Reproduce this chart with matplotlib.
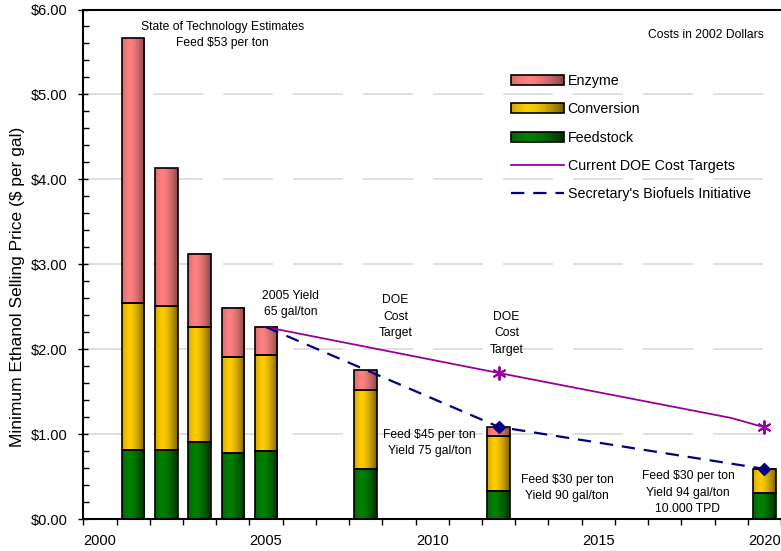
import numpy as np
import matplotlib
matplotlib.use("Agg")
import matplotlib.pyplot as plt
from matplotlib.legend_handler import HandlerBase
from matplotlib.patches import Rectangle
from matplotlib.lines import Line2D
from matplotlib.colors import to_rgb

plt.rcParams['font.family'] = ['Liberation Sans', 'DejaVu Sans']

# Data
years = [2001, 2002, 2003, 2004, 2005, 2008, 2012, 2020]
feedstock = [0.81, 0.81, 0.91, 0.78, 0.80, 0.59, 0.33, 0.31]
conversion = [1.73, 1.70, 1.35, 1.13, 1.13, 0.93, 0.65, 0.28]
enzyme = [3.12, 1.62, 0.86, 0.58, 0.33, 0.23, 0.10, 0.0]

doe_years = [2005, 2012, 2019, 2020]
doe_cost = [2.26, 1.72, 1.19, 1.08]

sec_years = [2005, 2012, 2020]
sec_cost = [2.26, 1.085, 0.59]

# light (center) / dark (edge) colours for the gradient fills
colors = {
    'Enzyme': ('#ff8080', '#8a4848'),
    'Conversion': ('#ffcc00', '#7a6000'),
    'Feedstock': ('#008000', '#003000'),
}


def grad_row(light, dark, n=64):
    t = np.linspace(0, 1, n)
    w = np.clip(np.abs(t - 0.33) / 0.67, 0, 1) ** 1.5
    l = np.array(to_rgb(light))
    d = np.array(to_rgb(dark))
    return l[None, :] * (1 - w[:, None]) + d[None, :] * w[:, None]


def fill_gradient(ax, x0, x1, y0, y1, light, dark):
    if y1 - y0 <= 0:
        return
    img = grad_row(light, dark)[None, :, :]
    ax.imshow(img, extent=(x0, x1, y0, y1), aspect='auto',
              interpolation='bilinear', zorder=2)


class Swatch:
    def __init__(self, light, dark):
        self.light = light
        self.dark = dark


class SwatchHandler(HandlerBase):
    def create_artists(self, legend, orig_handle, xdescent, ydescent,
                       width, height, fontsize, trans):
        n = 30
        rows = grad_row(orig_handle.light, orig_handle.dark, n)
        arts = []
        for i in range(n):
            r = Rectangle((-xdescent + i * width / n, -ydescent), width / n + 0.3, height,
                          facecolor=rows[i], edgecolor='none', transform=trans)
            arts.append(r)
        arts.append(Rectangle((-xdescent, -ydescent), width, height, facecolor='none',
                              edgecolor='black', lw=1.2, transform=trans))
        return arts


fig = plt.figure(figsize=(7.81, 5.51), dpi=100)
ax = fig.add_axes([83.3 / 781, 32 / 551, 1 - 83.3 / 781, (519 - 9.5) / 551])

width = 0.68
bottom = np.zeros(len(years))
for name, vals in [('Feedstock', feedstock), ('Conversion', conversion), ('Enzyme', enzyme)]:
    light, dark = colors[name]
    for x, b, v in zip(years, bottom, vals):
        fill_gradient(ax, x - width / 2, x + width / 2, b, b + v, light, dark)
    ax.bar(years, vals, width, bottom=bottom, facecolor='none',
           edgecolor='black', linewidth=1.2, zorder=3)
    bottom = bottom + np.array(vals)

ax.plot(doe_years, doe_cost, color='#990099', lw=1.3, marker=(6, 2, 0),
        markersize=10, markeredgewidth=1.4, markevery=[1, 3], zorder=4)
ax.plot(sec_years, sec_cost, color='#000080', lw=1.6, linestyle=(0, (6, 4)),
        marker='D', markersize=6, markevery=[1, 2], zorder=5)

ax.set_xlim(1999.5, 1999.5 + (781 - 83.3) / 33.33)
ax.set_ylim(0, 6)

# axes styling
for s in ['left', 'bottom', 'top']:
    ax.spines[s].set_linewidth(1.5)
ax.spines['right'].set_visible(False)

ax.set_xticks(np.arange(1999.5, 2021, 1))
ax.set_xticklabels([])
ax.set_xticks([2000, 2005, 2010, 2015, 2020], minor=True)
ax.set_xticklabels(['2000', '2005', '2010', '2015', '2020'], minor=True)
ax.tick_params(axis='x', which='major', direction='out', length=4, width=1)
ax.tick_params(axis='x', which='minor', length=0, labelsize=10.5, pad=11)

ax.set_yticks(np.arange(0, 6.01, 1))
ax.set_yticklabels(['$%.2f' % v for v in np.arange(0, 6.01, 1)])
ax.set_yticks(np.arange(0, 6.01, 0.2), minor=True)
ax.tick_params(axis='y', which='major', direction='inout', length=7, width=1,
               labelsize=10.5, pad=7.5)
ax.tick_params(axis='y', which='minor', direction='in', length=4, width=1)

for v in range(1, 6):
    ax.axhline(v, color='#d9d9d9', lw=1.2, dashes=(30, 12), zorder=1)

ax.set_ylabel('Minimum Ethanol Selling Price ($ per gal)', fontsize=12.5)
ax.yaxis.set_label_coords(-0.0836, 0.456)

# annotations
fs = 8.7
ls = 1.5
ax.text(2003.69, 5.70, 'State of Technology Estimates\nFeed $53 per ton',
        ha='center', va='center', fontsize=fs, linespacing=ls)
ax.text(2019.97, 5.70, 'Costs in 2002 Dollars', ha='right', va='center', fontsize=fs)
ax.text(2005.73, 2.53, '2005 Yield\n65 gal/ton', ha='center', va='center',
        fontsize=fs, linespacing=ls)
ax.text(2008.9, 2.38, 'DOE\nCost\nTarget', ha='center', va='center',
        fontsize=fs, linespacing=ls)
ax.text(2012.24, 2.19, 'DOE\nCost\nTarget', ha='center', va='center',
        fontsize=fs, linespacing=ls)
ax.text(2009.92, 0.896, 'Feed $45 per ton\nYield 75 gal/ton', ha='center',
        va='center', fontsize=fs, linespacing=ls)
ax.text(2014.07, 0.365, 'Feed $30 per ton\nYield 90 gal/ton', ha='center',
        va='center', fontsize=fs, linespacing=ls)
ax.text(2017.7, 0.31, 'Feed $30 per ton\nYield 94 gal/ton\n10.000 TPD',
        ha='center', va='center', fontsize=fs, linespacing=ls)

# legend
handles = [Swatch(*colors['Enzyme']), Swatch(*colors['Conversion']),
           Swatch(*colors['Feedstock']),
           Line2D([], [], color='#990099', lw=1.3),
           Line2D([], [], color='#000080', lw=1.6, linestyle=(0, (6, 4)))]
labels = ['Enzyme', 'Conversion', 'Feedstock', 'Current DOE Cost Targets',
          "Secretary's Biofuels Initiative"]
ax.legend(handles, labels, handler_map={Swatch: SwatchHandler()},
          loc='upper left', bbox_to_anchor=(511 / 781, 1 - 74 / 551),
          bbox_transform=fig.transFigure, frameon=False, fontsize=10.3,
          handlelength=3.7, handletextpad=0.25, labelspacing=1.0,
          borderpad=0, borderaxespad=0)

plt.savefig('out.png', dpi=100)
